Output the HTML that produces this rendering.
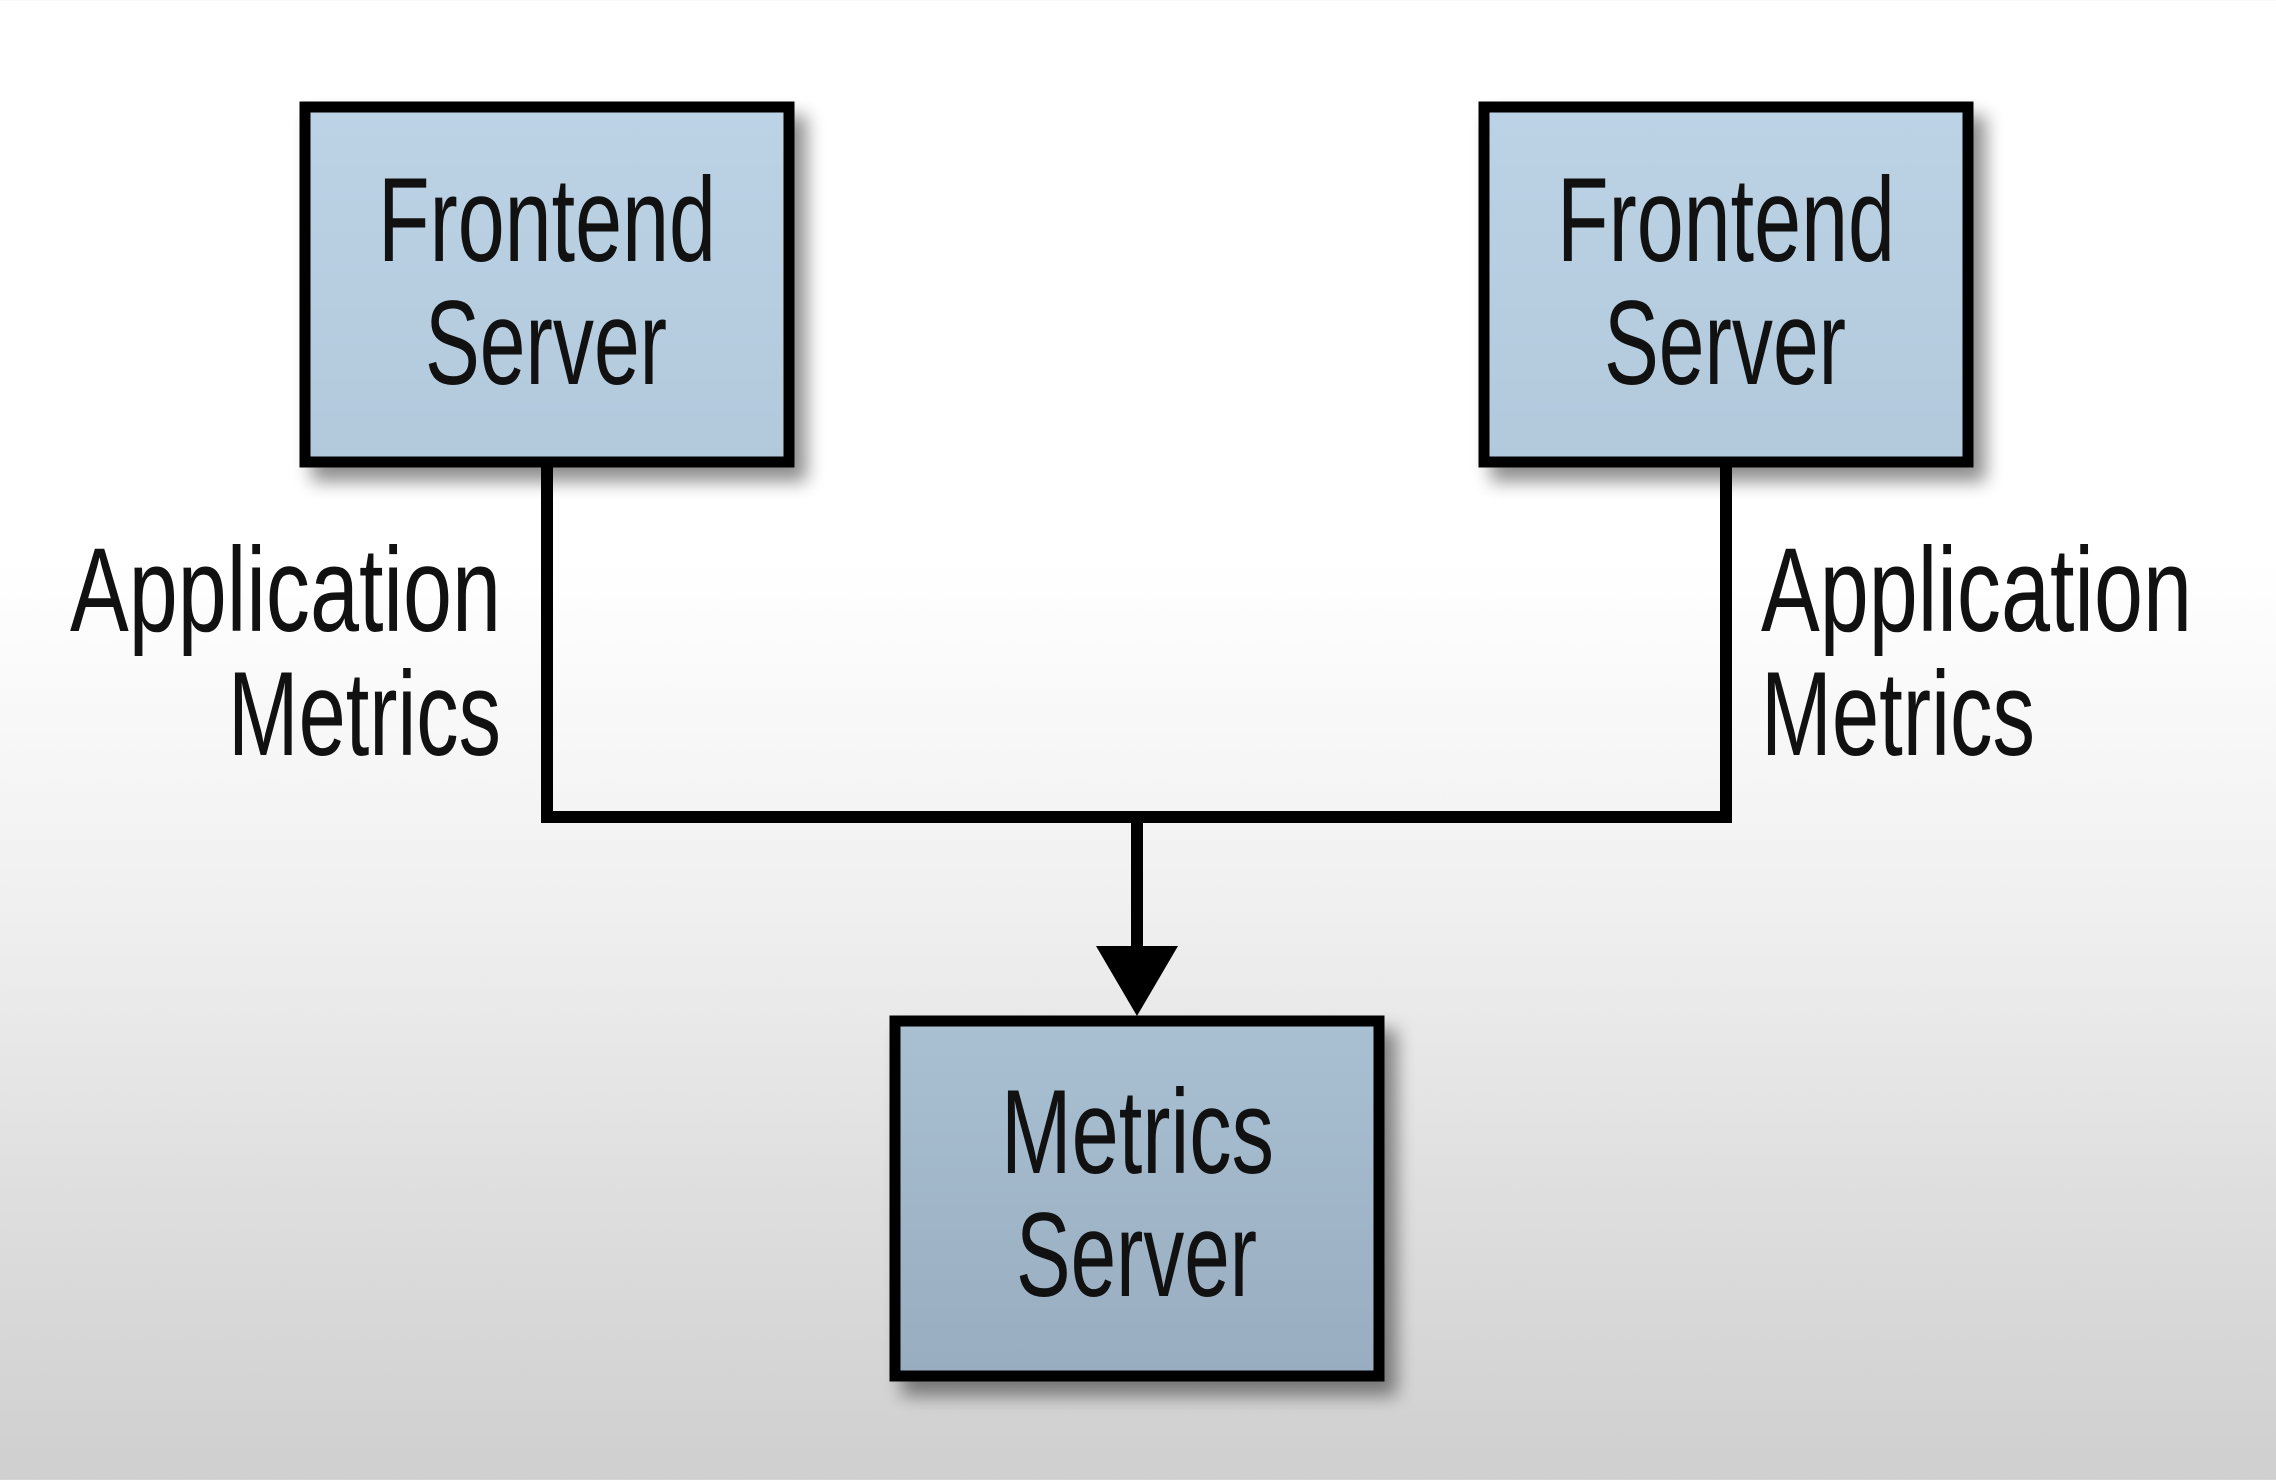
<!DOCTYPE html>
<html><head><meta charset="utf-8"><style>
html,body{margin:0;padding:0;width:2276px;height:1480px;overflow:hidden}
body{background:linear-gradient(to bottom,#ffffff 0px,#ffffff 560px,#f0f0f0 900px,#dedede 1200px,#cfcfcf 1480px)}
text{font-family:"Liberation Sans Narrow","Liberation Sans",sans-serif;fill:#111}
</style></head><body>
<svg width="2276" height="1480" viewBox="0 0 2276 1480" xmlns="http://www.w3.org/2000/svg">
<defs>
<filter id="sh" x="-10%" y="-10%" width="130%" height="130%">
<feGaussianBlur in="SourceAlpha" stdDeviation="9"/>
<feOffset dx="12" dy="14"/>
<feComponentTransfer><feFuncA type="linear" slope="0.45"/></feComponentTransfer>
<feMerge><feMergeNode/><feMergeNode in="SourceGraphic"/></feMerge>
</filter>
<linearGradient id="g1" x1="0" y1="0" x2="0" y2="1"><stop offset="0" stop-color="#bcd3e6"/><stop offset="1" stop-color="#b2c9dc"/></linearGradient>
<linearGradient id="g2" x1="0" y1="0" x2="0" y2="1"><stop offset="0" stop-color="#a9c0d3"/><stop offset="1" stop-color="#98adbf"/></linearGradient>
</defs>
<!-- connectors -->
<path d="M547 467 V817 H1726 V467" fill="none" stroke="#000" stroke-width="12"/>
<line x1="1137" y1="817" x2="1137" y2="950" stroke="#000" stroke-width="12"/>
<polygon points="1096,946 1178,946 1137,1016" fill="#000"/>
<!-- boxes -->
<rect x="305" y="107" width="484" height="355" fill="url(#g1)" stroke="#000" stroke-width="11" filter="url(#sh)"/>
<rect x="1484" y="107" width="484" height="355" fill="url(#g1)" stroke="#000" stroke-width="11" filter="url(#sh)"/>
<rect x="895" y="1021" width="484" height="355" fill="url(#g2)" stroke="#000" stroke-width="11" filter="url(#sh)"/>
<!-- box text -->
<text x="378" y="261" font-size="120" textLength="338" lengthAdjust="spacingAndGlyphs">Frontend</text>
<text x="425" y="384" font-size="120" textLength="242" lengthAdjust="spacingAndGlyphs">Server</text>
<text x="1557" y="261" font-size="120" textLength="338" lengthAdjust="spacingAndGlyphs">Frontend</text>
<text x="1604" y="384" font-size="120" textLength="242" lengthAdjust="spacingAndGlyphs">Server</text>
<text x="1001" y="1173" font-size="120" textLength="273" lengthAdjust="spacingAndGlyphs">Metrics</text>
<text x="1016" y="1296" font-size="120" textLength="241" lengthAdjust="spacingAndGlyphs">Server</text>
<!-- labels -->
<text x="70" y="631" font-size="120" textLength="431" lengthAdjust="spacingAndGlyphs">Application</text>
<text x="228" y="755" font-size="120" textLength="273" lengthAdjust="spacingAndGlyphs">Metrics</text>
<text x="1761" y="631" font-size="120" textLength="431" lengthAdjust="spacingAndGlyphs">Application</text>
<text x="1761" y="755" font-size="120" textLength="274" lengthAdjust="spacingAndGlyphs">Metrics</text>
</svg>
</body></html>
